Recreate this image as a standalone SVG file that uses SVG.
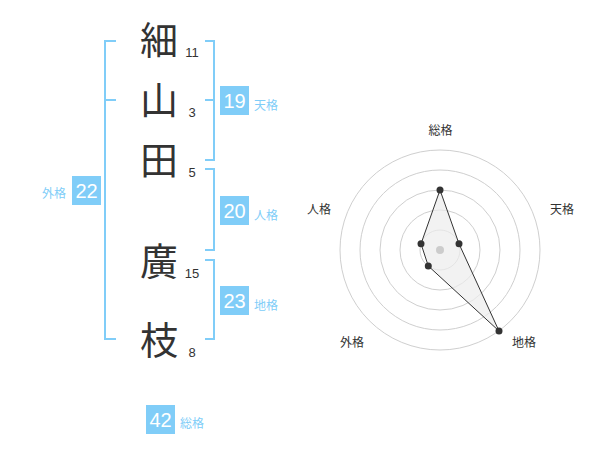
<svg xmlns="http://www.w3.org/2000/svg" width="600" height="470" viewBox="0 0 600 470">
<style>
.ch{font-family:"Noto Sans CJK JP","Noto Sans CJK SC",sans-serif;font-size:38px;fill:#333;text-anchor:middle}
.st{font-family:"Liberation Sans",Arial,sans-serif;font-size:13px;fill:#333;text-anchor:middle}
.box{fill:#80cdf8}
.bn{font-family:"Liberation Sans",Arial,sans-serif;font-size:20px;fill:#fff;text-anchor:middle}
.lb{font-family:"Noto Sans CJK JP","Noto Sans CJK SC",sans-serif;font-size:12px;fill:#80cdf8}
.br{fill:none;stroke:#80cdf8;stroke-width:2}
.ring{fill:none;stroke:#cfcfcf;stroke-width:1}
.rl{font-family:"Noto Sans CJK JP","Noto Sans CJK SC",sans-serif;font-size:12px;fill:#333;text-anchor:middle}
.pt{fill:#333}
</style>
<g id="connectors">
<path class="br" d="M116,41 H105 V339 H116 M105,100 H116"/>
<path class="br" d="M205,41 H214 V160 H205 M205,100 H214"/>
<path class="br" d="M205,169 H214 V250 H205"/>
<path class="br" d="M205,260 H214 V339 H205"/>
</g>
<g id="char1"><text class="ch" x="159" y="54">細</text><text class="st" x="192" y="57">11</text></g>
<g id="char2"><text class="ch" x="159" y="114">山</text><text class="st" x="192" y="117">3</text></g>
<g id="char3"><text class="ch" x="159" y="174">田</text><text class="st" x="192" y="177">5</text></g>
<g id="char4"><text class="ch" x="159" y="275">廣</text><text class="st" x="192" y="278">15</text></g>
<g id="char5"><text class="ch" x="159" y="354">枝</text><text class="st" x="192" y="357">8</text></g>
<g id="tenkaku"><rect class="box" x="220" y="86" width="29" height="29"/><text class="bn" x="234.5" y="107.5">19</text><text class="lb" x="254" y="110">天格</text></g>
<g id="jinkaku"><rect class="box" x="220" y="196" width="29" height="29"/><text class="bn" x="234.5" y="217.5">20</text><text class="lb" x="254" y="220">人格</text></g>
<g id="chikaku"><rect class="box" x="220" y="286" width="29" height="29"/><text class="bn" x="234.5" y="307.5">23</text><text class="lb" x="254" y="310">地格</text></g>
<g id="gaikaku"><rect class="box" x="72" y="176" width="29" height="29"/><text class="bn" x="86.5" y="197.5">22</text><text class="lb" x="42" y="198">外格</text></g>
<g id="soukaku"><rect class="box" x="146" y="405" width="29" height="29"/><text class="bn" x="160.5" y="426.5">42</text><text class="lb" x="180" y="428">総格</text></g>
<g id="radar">
<circle class="ring" cx="440" cy="250" r="20"/>
<circle class="ring" cx="440" cy="250" r="40"/>
<circle class="ring" cx="440" cy="250" r="60"/>
<circle class="ring" cx="440" cy="250" r="80"/>
<circle class="ring" cx="440" cy="250" r="100"/>
<polygon points="440,190 459,243.8 499,331 428.3,266 421,243.8" fill="#ececec" fill-opacity="0.7" stroke="#333" stroke-width="1"/>
<circle cx="440" cy="250" r="4" fill="#cccccc"/>
<circle class="pt" cx="440" cy="190" r="3.5"/>
<circle class="pt" cx="459" cy="243.8" r="3.5"/>
<circle class="pt" cx="499" cy="331" r="3.5"/>
<circle class="pt" cx="428.3" cy="266" r="3.5"/>
<circle class="pt" cx="421" cy="243.8" r="3.5"/>
<text class="rl" x="440.5" y="135">総格</text>
<text class="rl" x="562" y="214">天格</text>
<text class="rl" x="524" y="347">地格</text>
<text class="rl" x="352" y="347">外格</text>
<text class="rl" x="319" y="214">人格</text>
</g>
</svg>
